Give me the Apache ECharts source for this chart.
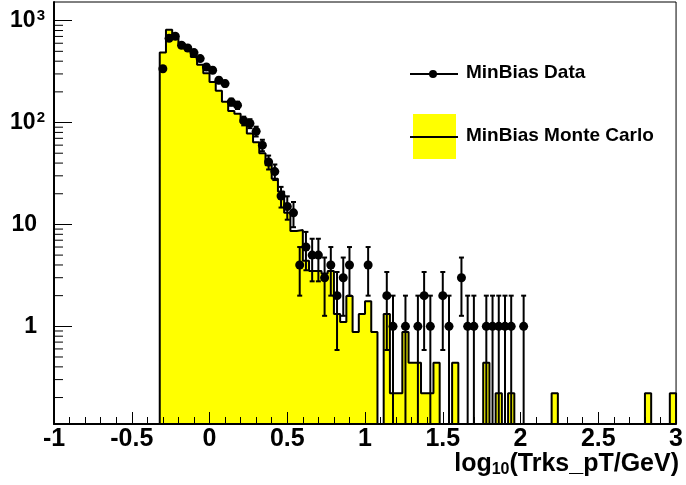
<!DOCTYPE html>
<html><head><meta charset="utf-8">
<script src="https://cdn.jsdelivr.net/npm/echarts@6/dist/echarts.min.js"></script>
<style>html,body{margin:0;padding:0;background:#fff}#c{width:686px;height:485px}</style>
</head><body><div id="c"></div>
<script>
// ---- data ----
const xMin = -1, xMax = 3, binWidth = 0.04, firstBin = 17;
const yMin = 0.11, yMax = 1524;
const xTickInterval = 0.5;
// MC histogram contents, bins 17..99 (bin k covers [-1+0.04k, -1+0.04(k+1)])
const mcValues = [
  486, 816, 680, 600, 520, 440, 370, 305, 250, 205,
  160, 130, 122, 100, 78, 64, 50, 38, 28, 21,
  13, 8.6, 8.8, 4.4, 3.5, 3.5, 3.3, 3.5, 1.32, 1.1,
  1.98, 0.88, 1.32, 1.76, 0.88, 0, 1.32, 0.22, 0.22, 0.88,
  0.44, 0.44, 0.22, 0.22, 0.44, 0, 0, 0.44, 0, 0,
  0, 0, 0.44, 0, 0.22, 0, 0.22, 0, 0, 0,
  0, 0, 0, 0.22, 0, 0, 0, 0, 0, 0,
  0, 0, 0, 0, 0, 0, 0, 0, 0.22, 0,
  0, 0, 0.22
];
// Data counts, bins 17..75
const dataValues = [
  337, 670, 702, 573, 539, 486, 424, 351, 326, 260,
  241, 159, 148, 104, 98, 82, 60, 41, 33, 19,
  15, 13, 4, 6, 5, 5, 3, 4, 2, 3,
  4, 0, 0, 4, 0, 0, 2, 1, 0, 1,
  0, 1, 2, 1, 0, 2, 1, 0, 3, 1,
  1, 0, 1, 1, 1, 1, 1, 0, 1
];
const yTickLabels = {1: ['1', ''], 10: ['10', ''], 100: ['10', '2'], 1000: ['10', '3']};
const seriesNames = ['MinBias Data', 'MinBias Monte Carlo'];
const xTitle = ['log', '10', '(Trks_pT/GeV)'];

// ---- derived ----
const binLo = k => xMin + k * binWidth;
const mcBars = [];
const mcOutline = [[binLo(firstBin), yMin]];
mcValues.forEach((v, i) => {
  const k = firstBin + i, lo = binLo(k), hi = binLo(k + 1);
  if (v > 0) mcBars.push([lo, hi, v]);
  const h = v > 0 ? v : yMin;
  mcOutline.push([lo, h], [hi, h]);
});
mcOutline.push([binLo(firstBin + mcValues.length), yMin]);

const dataPts = [], dataErr = [];
dataValues.forEach((v, i) => {
  if (v <= 0) return;
  const c = binLo(firstBin + i) + binWidth / 2;
  dataPts.push([c, v]);
  const e = Math.sqrt(v);
  dataErr.push([c, Math.max(v - e, yMin), v + e]);
});

const minorY = [];
for (let d = 0.1; d <= 1000; d *= 10) {
  for (let m = 2; m <= 9; m++) {
    const v = +(m * d).toPrecision(3);
    if (v > yMin && v < yMax) minorY.push([v]);
  }
}

const FONT = 'Liberation Sans, Arial, Helvetica, sans-serif';
const chart = echarts.init(document.getElementById('c'), null, {renderer: 'canvas'});
chart.setOption({
  animation: false,
  backgroundColor: '#fff',
  grid: {left: 54, right: 8, top: 2, bottom: 61, show: true, borderColor: '#000', borderWidth: 1, backgroundColor: 'transparent'},
  xAxis: {
    type: 'value', min: xMin, max: xMax, interval: xTickInterval, z: 10,
    axisLine: {onZero: false, lineStyle: {color: '#000', width: 2}},
    axisTick: {inside: true, length: 12, lineStyle: {color: '#000', width: 1}},
    minorTick: {show: true, splitNumber: 5, length: 7, lineStyle: {color: '#000', width: 1}},
    splitLine: {show: false},
    axisLabel: {color: '#000', fontSize: 25, fontWeight: 'bold', fontFamily: FONT, margin: 3,
      showMinLabel: true, showMaxLabel: true}
  },
  yAxis: {
    type: 'log', logBase: 10, min: yMin, max: yMax, z: 10,
    axisLine: {show: true, onZero: false, lineStyle: {color: '#000', width: 2}},
    axisTick: {show: true, inside: true, length: 18, lineStyle: {color: '#000', width: 1}},
    splitLine: {show: false},
    axisLabel: {
      showMinLabel: false, showMaxLabel: false, margin: 9,
      formatter: v => {
        const r = Math.round(v);
        const t = yTickLabels[r];
        if (!t || Math.abs(v - r) > 1e-6) return '';
        return t[1] ? '{n|' + t[0] + '}{s|' + t[1] + '}' : '{n|' + t[0] + '}{p|}';
      },
      rich: {
        n: {fontSize: 23, fontWeight: 'bold', fontFamily: FONT, color: '#000', lineHeight: 24},
        s: {fontSize: 15, fontWeight: 'bold', fontFamily: FONT, color: '#000', verticalAlign: 'top', lineHeight: 15, padding: [0, 0, 10, 1]},
        p: {width: 8}
      }
    }
  },
  series: [
    {
      name: seriesNames[1] + ' fill', type: 'custom', data: mcBars, z: 1, clip: true,
      renderItem: (params, api) => {
        const p1 = api.coord([api.value(0), api.value(2)]);
        const p2 = api.coord([api.value(1), yMin]);
        return {type: 'rect', shape: {x: p1[0] - 0.5, y: p1[1], width: p2[0] - p1[0] + 1, height: p2[1] - p1[1]},
          style: {fill: '#ffff00'}};
      }
    },
    {
      name: seriesNames[1], type: 'line', data: mcOutline, z: 2, showSymbol: false, symbol: 'none',
      lineStyle: {color: '#000', width: 2}, clip: true
    },
    {
      name: 'yminor', type: 'custom', data: minorY, z: 11, silent: true,
      renderItem: (params, api) => {
        const p = api.coord([xMin, api.value(0)]);
        return {type: 'line', shape: {x1: p[0], y1: p[1], x2: p[0] + 9, y2: p[1]},
          style: {stroke: '#000', lineWidth: 1}};
      }
    },
    {
      name: seriesNames[0] + ' err', type: 'custom', data: dataErr, z: 5, clip: true,
      renderItem: (params, api) => {
        const x = api.value(0), lo = api.value(1), hi = api.value(2);
        const t = api.coord([x, hi]), b = api.coord([x, lo]);
        const st = {stroke: '#000', lineWidth: 2};
        const ch = [
          {type: 'line', shape: {x1: t[0], y1: t[1], x2: b[0], y2: b[1]}, style: st},
          {type: 'line', shape: {x1: t[0] - 2.5, y1: t[1], x2: t[0] + 2.5, y2: t[1]}, style: st}
        ];
        if (lo > yMin * 1.0001) ch.push({type: 'line', shape: {x1: b[0] - 2.5, y1: b[1], x2: b[0] + 2.5, y2: b[1]}, style: st});
        return {type: 'group', children: ch};
      }
    },
    {
      name: seriesNames[0], type: 'scatter', data: dataPts, z: 6, symbol: 'circle', symbolSize: 9,
      itemStyle: {color: '#000', opacity: 1}
    }
  ],
  graphic: [
    {type: 'line', shape: {x1: 410, y1: 74, x2: 458, y2: 74}, style: {stroke: '#000', lineWidth: 2}},
    {type: 'circle', shape: {cx: 433, cy: 74, r: 4}, style: {fill: '#000'}},
    {type: 'text', x: 466, y: 73, style: {text: seriesNames[0], font: 'bold 19px ' + FONT, fill: '#000', verticalAlign: 'middle'}},
    {type: 'rect', shape: {x: 413, y: 114, width: 43, height: 45}, style: {fill: '#ffff00'}},
    {type: 'line', shape: {x1: 410, y1: 137, x2: 458, y2: 137}, style: {stroke: '#000', lineWidth: 2}},
    {type: 'text', x: 466, y: 136, style: {text: seriesNames[1], font: 'bold 19px ' + FONT, fill: '#000', verticalAlign: 'middle'}},
    {type: 'text', x: 679, y: 464, style: {
      text: '{a|' + xTitle[0] + '}{b|' + xTitle[1] + '}{a|' + xTitle[2] + '}',
      align: 'right', verticalAlign: 'middle',
      rich: {
        a: {fontSize: 25, fontWeight: 'bold', fontFamily: FONT, fill: '#000', color: '#000', lineHeight: 27},
        b: {fontSize: 16, fontWeight: 'bold', fontFamily: FONT, fill: '#000', color: '#000', verticalAlign: 'bottom', lineHeight: 16, padding: [12, 0, 0, 0]}
      }
    }}
  ]
});
</script></body></html>
